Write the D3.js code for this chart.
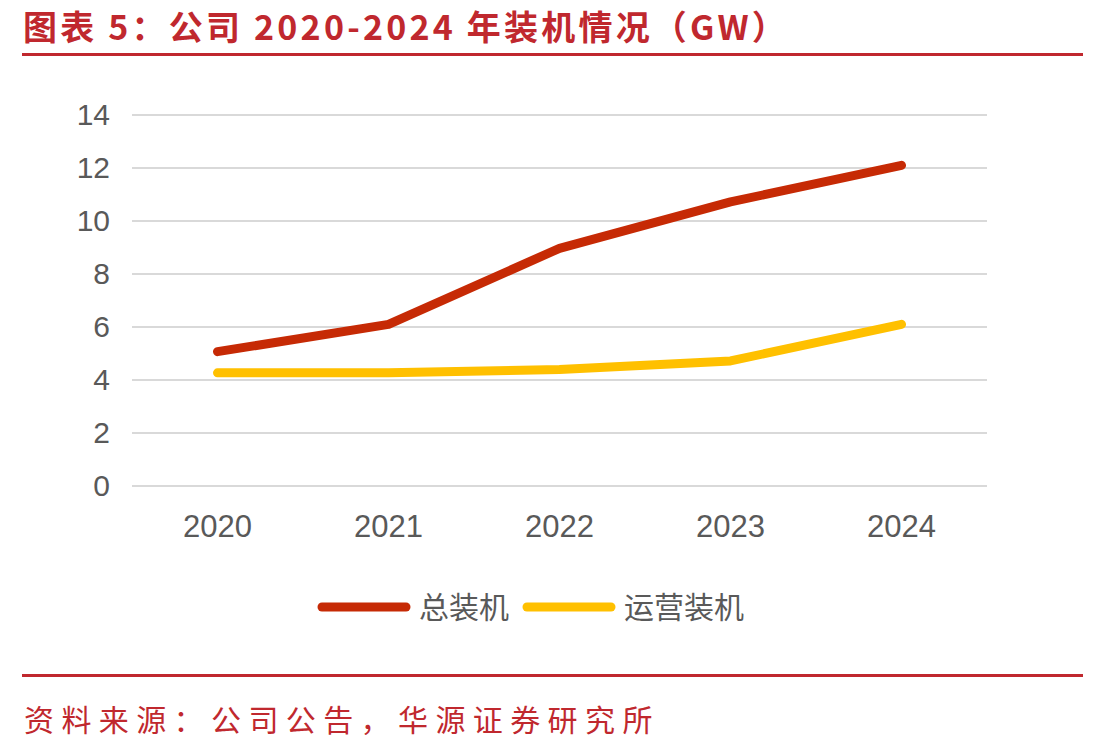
<!DOCTYPE html>
<html>
<head>
<meta charset="utf-8">
<script src="https://cdn.jsdelivr.net/npm/d3@7"></script>
<style>
  body { margin: 0; background: #fff; }
  svg { display: block; }
</style>
</head>
<body>
<div id="chart"></div>
<script>
let years = ['2020', '2021', '2022', '2023', '2024']
let totalCap = [5.07, 6.1, 8.97, 10.72, 12.1]
let operCap = [4.27, 4.27, 4.4, 4.72, 6.1]
let yTicks = [0, 2, 4, 6, 8, 10, 12, 14]
let seriesNames = ['总装机', '运营装机']

let redC = '#c62a05'
let yellowC = '#ffc000'
let titleC = '#c0282e'
let textC = '#595959'
let gridC = '#d9d9d9'

var width = 1113
var height = 748

var svg = d3.select('#chart').append('svg')
  .attr('width', width)
  .attr('height', height)

// title and rules
svg.append('text')
  .attr('x', 23)
  .attr('y', 40)
  .style('font-family', '"Noto Sans CJK SC", sans-serif')
  .style('font-size', '34px')
  .style('font-weight', 'bold')
  .style('letter-spacing', '3.2px')
  .style('fill', titleC)
  .text('图表 5：公司 2020-2024 年装机情况（GW）')

svg.append('rect')
  .attr('x', 22).attr('y', 53).attr('width', 1061).attr('height', 3)
  .style('fill', titleC)

svg.append('rect')
  .attr('x', 22).attr('y', 674).attr('width', 1061).attr('height', 3)
  .style('fill', titleC)

svg.append('text')
  .attr('x', 24)
  .attr('y', 731)
  .style('font-family', '"Noto Sans CJK SC", sans-serif')
  .style('font-size', '30px')
  .style('letter-spacing', '7.4px')
  .style('fill', titleC)
  .text('资料来源：公司公告，华源证券研究所')

// scales
var x = d3.scaleBand().domain(years).range([132, 987])
var y = d3.scaleLinear().domain([0, 14]).range([486, 115])

// grid
svg.append('g')
  .selectAll('line')
  .data(yTicks)
  .enter().append('line')
    .attr('x1', 132)
    .attr('x2', 987)
    .attr('y1', d => y(d))
    .attr('y2', d => y(d))
    .style('stroke', gridC)
    .style('stroke-width', 2)

// y axis labels
var yAxis = d3.axisLeft(y).tickValues(yTicks).tickSize(0).tickPadding(0)
var yg = svg.append('g').attr('transform', 'translate(110,0)').call(yAxis)
yg.select('.domain').remove()
yg.selectAll('text')
  .style('font-family', '"Liberation Sans", Arial, sans-serif')
  .style('font-size', '30px')
  .style('fill', textC)

// x axis labels
var xAxis = d3.axisBottom(x).tickSize(0).tickPadding(0)
var xg = svg.append('g').attr('transform', 'translate(0,512)').call(xAxis)
xg.select('.domain').remove()
xg.selectAll('text')
  .attr('dy', '0.8em')
  .style('font-family', '"Liberation Sans", Arial, sans-serif')
  .style('font-size', '31px')
  .style('fill', textC)

// lines
var line = d3.line()
  .x((d, i) => x(years[i]) + x.bandwidth() / 2)
  .y(d => y(d))

svg.append('path')
  .datum(operCap)
  .attr('d', line)
  .style('fill', 'none')
  .style('stroke', yellowC)
  .style('stroke-width', 9)
  .style('stroke-linecap', 'round')
  .style('stroke-linejoin', 'round')

svg.append('path')
  .datum(totalCap)
  .attr('d', line)
  .style('fill', 'none')
  .style('stroke', redC)
  .style('stroke-width', 9)
  .style('stroke-linecap', 'round')
  .style('stroke-linejoin', 'round')

// legend
var legend = [
  { name: seriesNames[0], c: redC, x: 322 },
  { name: seriesNames[1], c: yellowC, x: 527 }
]
legend.forEach(l => {
  svg.append('line')
    .attr('x1', l.x).attr('x2', l.x + 84)
    .attr('y1', 607).attr('y2', 607)
    .style('stroke', l.c)
    .style('stroke-width', 9)
    .style('stroke-linecap', 'round')
  svg.append('text')
    .attr('x', l.x + 97)
    .attr('y', 618)
    .style('font-family', '"Noto Sans CJK SC", sans-serif')
    .style('font-size', '30px')
    .style('fill', textC)
    .text(l.name)
})
</script>
</body>
</html>
